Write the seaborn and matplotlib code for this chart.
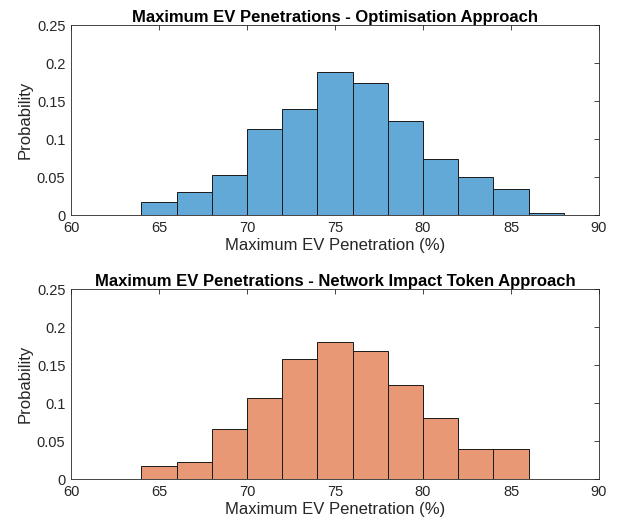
import numpy as np
import pandas as pd
import matplotlib
matplotlib.use("Agg")
import matplotlib.pyplot as plt
import seaborn as sns

sns.set_style("white")
plt.rcParams['font.family'] = ['Liberation Sans', 'DejaVu Sans']

# -- Data (bin centres and probabilities) -- #
bin_centers = [65, 67, 69, 71, 73, 75, 77, 79, 81, 83, 85, 87]
opt_prob = [0.0176, 0.0312, 0.0527, 0.1134, 0.1397, 0.1889,
            0.1744, 0.1239, 0.0747, 0.0505, 0.0351, 0.0030]
nit_prob = [0.0171, 0.0224, 0.0658, 0.1075, 0.1588, 0.1803,
            0.1684, 0.1246, 0.0811, 0.0395, 0.0395, 0.0]

titles = ["Maximum EV Penetrations - Optimisation Approach",
          "Maximum EV Penetrations - Network Impact Token Approach"]
colors = ["#62A9D8", "#E89875"]

fig = plt.figure(figsize=(6.26, 5.27), dpi=100)
ax1 = fig.add_axes([0.1134, 0.5915, 0.8435, 0.3605])
ax2 = fig.add_axes([0.1134, 0.0905, 0.8435, 0.3605])

for ax, probs, title, col in zip([ax1, ax2], [opt_prob, nit_prob], titles, colors):
    df = pd.DataFrame({"pen": bin_centers, "prob": probs})
    df = df[df["prob"] > 0]
    sns.histplot(data=df, x="pen", weights="prob", binwidth=2, binrange=(64, 64 + 2 * len(df)),
                 stat="count", color=col, alpha=1, edgecolor="#1a1a1a", linewidth=0.7, ax=ax)
    ax.set_xlim(60, 90)
    ax.set_ylim(0, 0.25)
    ax.set_xticks([60, 65, 70, 75, 80, 85, 90])
    ax.set_yticks([0, 0.05, 0.1, 0.15, 0.2, 0.25])
    ax.set_yticklabels(["0", "0.05", "0.1", "0.15", "0.2", "0.25"])
    ax.set_title(title, fontsize=12, fontweight="bold", pad=2.5, color="black")
    ax.set_xlabel("Maximum EV Penetration (%)", fontsize=12, color="#262626", labelpad=2)
    ax.set_ylabel("Probability", fontsize=12, color="#262626", labelpad=3)
    ax.tick_params(direction="in", length=3.5, width=0.6, labelsize=10.5,
                   colors="#262626", top=True, right=True, pad=4)
    for s in ax.spines.values():
        s.set_color("#262626")
        s.set_linewidth(0.6)

fig.savefig("out.png", dpi=100)
